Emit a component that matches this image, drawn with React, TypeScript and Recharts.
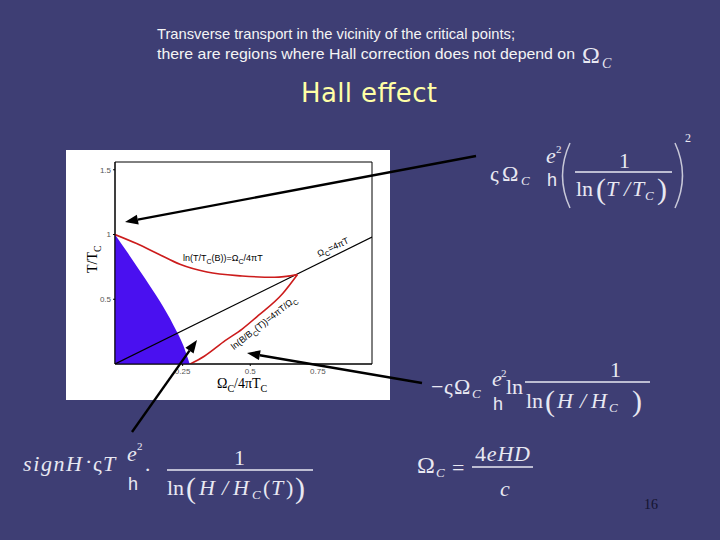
import React from 'react';
import { ComposedChart, Area, Line, XAxis, YAxis, ReferenceArea } from 'recharts';

// x = Ω_C/4πT_C, y = T/T_C
const blueX = [0, 0.043, 0.111, 0.167, 0.216, 0.253, 0.276];
const blueY = [1.0, 0.87, 0.66, 0.48, 0.3, 0.14, 0];
const upperX = [0, 0.08, 0.16, 0.24, 0.34, 0.47, 0.59, 0.674];
const upperY = [1.0, 0.93, 0.85, 0.77, 0.71, 0.68, 0.67, 0.69];
const lowerX = [0.278, 0.33, 0.407, 0.47, 0.53, 0.62, 0.674];
const lowerY = [0, 0.06, 0.18, 0.27, 0.375, 0.545, 0.69];
const diagX = [0, 0.95];
const diagY = [0, 0.98];
const xTicks = [0.25, 0.5, 0.75];
const yTicks = [0.5, 1, 1.5];

const zip = (xs: number[], ys: number[]) => xs.map((x, i) => ({ x, y: ys[i] }));

const serif = 'Liberation Serif';
const sans = 'Liberation Sans';
const fc = '#e8e8f2';
const bg = '#3e3e74';

const Arrow = ({ x1, y1, x2, y2 }: { x1: number; y1: number; x2: number; y2: number }) => {
  const a = Math.atan2(y2 - y1, x2 - x1);
  const len = 13, hw = 5;
  const bx = x2 - len * Math.cos(a), by = y2 - len * Math.sin(a);
  const px = -Math.sin(a) * hw, py = Math.cos(a) * hw;
  return (
    <g>
      <line x1={x1} y1={y1} x2={bx} y2={by} stroke="#000" strokeWidth={2.4} />
      <polygon points={`${x2},${y2} ${bx + px},${by + py} ${bx - px},${by - py}`} fill="#000" />
    </g>
  );
};

const T = (p: any) => <text fontFamily={serif} fill={fc} fontSize={22} {...p} />;
const I = (p: any) => <text fontFamily={serif} fill={fc} fontSize={22} fontStyle="italic" {...p} />;
const Bar_ = ({ x1, x2, y }: { x1: number; x2: number; y: number }) => (
  <line x1={x1} x2={x2} y1={y} y2={y} stroke={fc} strokeWidth={1.3} />
);

export default function App() {
  return (
    <div style={{ position: 'fixed', left: 0, top: 0, width: 720, height: 540, background: bg, overflow: 'hidden' }}>
      <div style={{ position: 'absolute', left: 66, top: 150, width: 324, height: 250, background: '#fff' }}>
        <ComposedChart width={324} height={250} margin={{ top: 12, right: 18, left: 0, bottom: 0 }}>
          <XAxis
            type="number"
            dataKey="x"
            domain={[0, 0.95]}
            ticks={xTicks}
            tickSize={2}
            height={36}
            allowDataOverflow
            axisLine={{ stroke: '#000' }}
            tickLine={{ stroke: '#000' }}
            tick={{ fontSize: 8, fill: '#555', fontFamily: sans }}
          />
          <YAxis
            type="number"
            dataKey="y"
            domain={[0, 1.56]}
            ticks={yTicks}
            tickSize={2}
            width={49}
            allowDataOverflow
            axisLine={{ stroke: '#000' }}
            tickLine={{ stroke: '#000' }}
            tick={{ fontSize: 8, fill: '#555', fontFamily: sans }}
          />
          <ReferenceArea x1={0} x2={0.95} y1={0} y2={1.56} fill="none" stroke="#000" strokeWidth={1} />
          <Area data={zip(blueX, blueY)} dataKey="y" type="monotone" fill="#4a10f0" fillOpacity={1} stroke="none" dot={false} activeDot={false} isAnimationActive={false} />
          <Line data={zip(diagX, diagY)} dataKey="y" type="linear" stroke="#000" strokeWidth={1.2} dot={false} activeDot={false} isAnimationActive={false} />
          <Line data={zip(upperX, upperY)} dataKey="y" type="monotone" stroke="#cc1c1c" strokeWidth={1.6} dot={false} activeDot={false} isAnimationActive={false} />
          <Line data={zip(lowerX, lowerY)} dataKey="y" type="monotone" stroke="#cc1c1c" strokeWidth={1.6} dot={false} activeDot={false} isAnimationActive={false} />
        </ComposedChart>
      </div>

      <svg width={720} height={540} style={{ position: 'absolute', left: 0, top: 0, pointerEvents: 'none' }}>
        {/* header */}
        <text x={157} y={39} fontSize={14.5} fill="#f4f4f4" fontFamily={sans} textLength={358} lengthAdjust="spacingAndGlyphs">
          Transverse transport in the vicinity of the critical points;
        </text>
        <text x={157} y={59} fontSize={14.5} fill="#f4f4f4" fontFamily={sans} textLength={418} lengthAdjust="spacingAndGlyphs">
          there are regions where Hall correction does not depend on
        </text>
        <T x={582} y={63} fontSize={24}>Ω</T>
        <I x={602} y={68} fontSize={14}>C</I>
        <text x={301} y={102} fontSize={26} fill="#ffffa6" fontFamily="DejaVu Sans" textLength={136}>
          Hall effect
        </text>

        {/* axis labels and curve labels of the plot */}
        <g transform="rotate(-90 92 247)">
          <text x={66} y={252} fontSize={14} fontFamily={serif} fill="#000">
            T/T<tspan fontSize={10} dy={4}>C</tspan>
          </text>
        </g>
        <text x={217} y={388} fontSize={14} fontFamily={serif} fill="#000">
          Ω<tspan fontSize={10} dy={4}>C</tspan>
          <tspan dy={-4}>/4πT</tspan>
          <tspan fontSize={10} dy={4}>C</tspan>
        </text>
        <text x={183} y={261} fontSize={9} fontFamily={sans} fill="#000">
          ln(T/T<tspan fontSize={7} dy={3}>C</tspan>
          <tspan dy={-3}>(B))=Ω</tspan>
          <tspan fontSize={7} dy={3}>C</tspan>
          <tspan dy={-3}>/4πT</tspan>
        </text>
        <g transform="rotate(-25 319 257)">
          <text x={319} y={257} fontSize={9} fontFamily={sans} fill="#000">
            Ω<tspan fontSize={7} dy={3}>C</tspan>
            <tspan dy={-3}>=4πT</tspan>
          </text>
        </g>
        <g transform="rotate(-38 234 350)">
          <text x={234} y={350} fontSize={9} fontFamily={sans} fill="#000">
            ln(B/B<tspan fontSize={7} dy={3}>C</tspan>
            <tspan dy={-3}>(T))=4πT/Ω</tspan>
            <tspan fontSize={7} dy={3}>C</tspan>
          </text>
        </g>

        {/* formula top right */}
        <T x={490} y={181}>ς</T>
        <T x={502} y={181}>Ω</T>
        <I x={521} y={185} fontSize={13}>C</I>
        <I x={546} y={163}>e</I>
        <T x={556} y={153} fontSize={11}>2</T>
        <text x={547} y={186} fontSize={18} fontFamily={sans} fill={fc}>h</text>
        <path d="M 570 143 Q 555 175.5 570 208" stroke="#c8c8d8" strokeWidth={1.5} fill="none" />
        <T x={619} y={168}>1</T>
        <Bar_ x1={575} x2={672} y={172} />
        <T x={576} y={196}>ln</T>
        <T x={596} y={199} fontSize={30}>(</T>
        <I x={606} y={196}>T</I>
        <I x={624} y={196}>/</I>
        <I x={632} y={196}>T</I>
        <I x={645} y={200} fontSize={13}>C</I>
        <T x={657} y={199} fontSize={30}>)</T>
        <path d="M 675 143 Q 690 175.5 675 208" stroke="#c8c8d8" strokeWidth={1.5} fill="none" />
        <T x={685} y={142} fontSize={12}>2</T>

        {/* formula middle right */}
        <T x={431} y={394}>−</T>
        <T x={444} y={394}>ς</T>
        <T x={454} y={394}>Ω</T>
        <I x={472} y={398} fontSize={13}>C</I>
        <I x={492} y={386}>e</I>
        <T x={501} y={377} fontSize={11}>2</T>
        <text x={493} y={410} fontSize={18} fontFamily={sans} fill={fc}>h</text>
        <T x={506} y={394}>ln</T>
        <T x={610} y={377}>1</T>
        <Bar_ x1={525} x2={650} y={382} />
        <T x={526} y={408}>ln</T>
        <T x={545} y={411} fontSize={30}>(</T>
        <I x={557} y={408}>H</I>
        <I x={580} y={408}>/</I>
        <I x={591} y={408}>H</I>
        <I x={609} y={412} fontSize={13}>C</I>
        <T x={632} y={411} fontSize={30}>)</T>

        {/* formula bottom left */}
        <I x={23} y={471} textLength={59}>signH</I>
        <T x={85} y={469}>·</T>
        <T x={93} y={471}>ς</T>
        <I x={103} y={471}>T</I>
        <I x={127} y={461}>e</I>
        <T x={137} y={450} fontSize={11}>2</T>
        <text x={128} y={490} fontSize={18} fontFamily={sans} fill={fc}>h</text>
        <T x={144} y={477}>·</T>
        <T x={234} y={465}>1</T>
        <Bar_ x1={167} x2={313} y={470} />
        <T x={167} y={495}>ln</T>
        <T x={186} y={498} fontSize={30}>(</T>
        <I x={199} y={495}>H</I>
        <I x={222} y={495}>/</I>
        <I x={233} y={495}>H</I>
        <I x={252} y={499} fontSize={13}>C</I>
        <T x={263} y={495}>(</T>
        <I x={271} y={495}>T</I>
        <T x={286} y={495}>)</T>
        <T x={295} y={498} fontSize={30}>)</T>

        {/* formula bottom right */}
        <T x={417} y={473} fontSize={24}>Ω</T>
        <I x={436} y={477} fontSize={13}>C</I>
        <T x={452} y={475}>=</T>
        <text x={475} y={461} fontSize={22} fontFamily={serif} fill={fc} textLength={55}>
          4<tspan fontStyle="italic">eHD</tspan>
        </text>
        <Bar_ x1={472} x2={533} y={467} />
        <I x={500} y={496}>c</I>

        <text x={644} y={509} fontSize={14} fontFamily={serif} fill="#141430">16</text>

        {/* arrows */}
        <Arrow x1={476} y1={156} x2={125} y2={222} />
        <Arrow x1={422} y1={383} x2={247} y2={353} />
        <Arrow x1={132} y1={432} x2={197} y2={340} />
      </svg>
    </div>
  );
}
